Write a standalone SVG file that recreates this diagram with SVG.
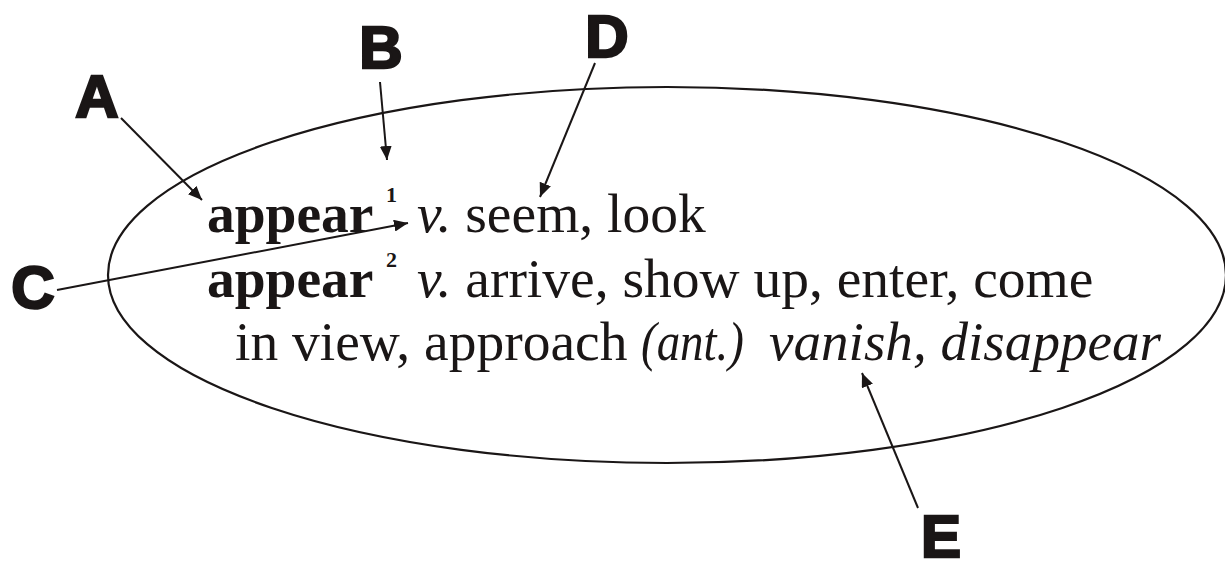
<svg xmlns="http://www.w3.org/2000/svg" width="1225" height="561" viewBox="0 0 1225 561">
<style>
.lbl{font-family:"Liberation Sans",Arial,sans-serif;font-weight:bold;font-size:60px;fill:#1a1616;stroke:#1a1616;stroke-width:2.5;text-anchor:middle}
.t{font-family:"Liberation Serif","Times New Roman",serif;font-size:55.5px;fill:#1a1616}
.b{font-weight:bold}
.i{font-style:italic}
.sup{font-family:"Liberation Serif","Times New Roman",serif;font-size:22px;font-weight:bold;fill:#1a1616}
.ar{stroke:#1a1616;stroke-width:2;fill:none;marker-end:url(#ah)}
</style>
<defs>
<marker id="ah" markerUnits="userSpaceOnUse" markerWidth="16" markerHeight="12" refX="14" refY="6" orient="auto">
<path d="M0,0 L14,6 L0,12 Z" fill="#1a1616"/>
</marker>
</defs>
<rect width="1225" height="561" fill="#fff"/>
<g id="ellipse">
<ellipse cx="667" cy="275" rx="559" ry="188" fill="none" stroke="#1a1616" stroke-width="2.2"/>
</g>
<g id="entry">
<text class="t" x="207" y="232"><tspan class="b">appear</tspan></text>
<text class="sup" x="386" y="202">1</text>
<text class="t" x="417" y="232"><tspan class="i">v.</tspan> seem, look</text>
<text class="t" x="207" y="297"><tspan class="b">appear</tspan></text>
<text class="sup" x="386" y="267">2</text>
<text class="t" x="417" y="297"><tspan class="i">v.</tspan> arrive, show up, enter, come</text>
<text class="t" x="235" y="360">in view, approach</text>
<text class="t i" x="641" y="360" font-size="48" textLength="103" lengthAdjust="spacingAndGlyphs">(ant.)</text>
<text class="t i" x="769" y="360" font-size="56" textLength="392" lengthAdjust="spacingAndGlyphs">vanish, disappear</text>
</g>
<g id="label-A"><text class="lbl" x="97" y="117">A</text></g>
<g id="label-B"><text class="lbl" x="381" y="68">B</text></g>
<g id="label-C"><text class="lbl" x="33" y="308">C</text></g>
<g id="label-D"><text class="lbl" x="607" y="57">D</text></g>
<g id="label-E"><text class="lbl" x="941" y="557">E</text></g>
<g id="connectors">
<line class="ar" x1="121" y1="118" x2="202" y2="200"/>
<line class="ar" x1="380" y1="82" x2="387" y2="160"/>
<line class="ar" x1="57" y1="290" x2="408" y2="223"/>
<line class="ar" x1="595" y1="63" x2="540" y2="197"/>
<line class="ar" x1="918" y1="508" x2="862" y2="373"/>
</g>
</svg>
